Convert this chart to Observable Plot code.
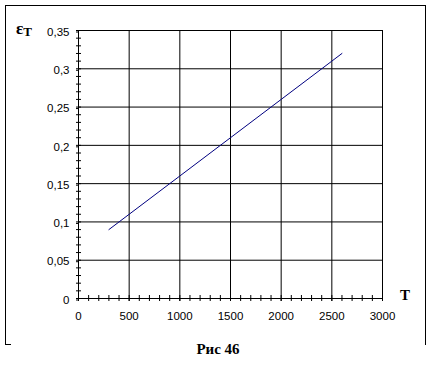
<!DOCTYPE html>
<html>
<head>
<meta charset="utf-8">
<script src="https://cdn.jsdelivr.net/npm/d3@7"></script>
<script src="https://cdn.jsdelivr.net/npm/@observablehq/plot@0.6"></script>
<style>
  html, body { margin: 0; padding: 0; background: #fff; }
  #wrap { position: relative; width: 432px; height: 375px; overflow: hidden; }
  #chart { position: absolute; left: 0; top: 0; }
  .box { position: absolute; left: 5px; top: 5px; width: 419px; height: 339px;
         border-left: 1px solid #000; border-top: 1px solid #000; border-right: 1px solid #000; }
  .stub { position: absolute; left: 5px; top: 344px; width: 6px; height: 0; border-top: 1px solid #000; }
  .lbl { position: absolute; font-family: "Liberation Serif", "Times New Roman", serif; font-weight: bold; color: #000; white-space: nowrap; }
</style>
</head>
<body>
<div id="wrap">
  <div class="box"></div>
  <div class="stub"></div>
  <div id="chart"></div>
  <div class="lbl" style="left:16px; top:19px; font-size:17px;">ε<span style="font-size:13px; position:relative; top:2px;">T</span></div>
  <div class="lbl" style="left:400px; top:287px; font-size:15px;">T</div>
  <div class="lbl" style="left:0; width:436px; text-align:center; top:341px; font-size:15px;">Рис 46</div>
</div>
<script>
// Data
const T   = [300, 500, 1000, 1500, 2000, 2500, 2600];
const eps = [0.09, 0.11, 0.16, 0.21, 0.26, 0.31, 0.32];

const xTicks = [0, 500, 1000, 1500, 2000, 2500, 3000];
const yTicks = [0, 0.05, 0.1, 0.15, 0.2, 0.25, 0.3, 0.35];
const xMinor = d3.range(0, 3001, 100);
const yMinor = d3.range(0, 36, 1).map(v => v / 100);

const rows = T.map((t, i) => ({T: t, e: eps[i]}));
const fmt = d => String(d).replace(".", ",");

const chart = Plot.plot({
  width: 432,
  height: 375,
  marginLeft: 78,
  marginRight: 50,
  marginTop: 30,
  marginBottom: 77,
  style: {fontFamily: "'Liberation Sans', Arial, sans-serif", fontSize: "11.5px", color: "#000", background: "transparent"},
  x: {domain: [0, 3000]},
  y: {domain: [0, 0.35]},
  marks: [
    Plot.gridX(xTicks, {stroke: "#000", strokeOpacity: 1}),
    Plot.gridY(yTicks, {stroke: "#000", strokeOpacity: 1}),
    Plot.ruleX(xMinor, {x: d => d, y1: () => 0, y2: () => 0, insetTop: -3, insetBottom: -3, stroke: "#000"}),
    Plot.ruleY(yMinor, {y: d => d, x1: () => 0, x2: () => 0, insetLeft: -2, insetRight: -3, stroke: "#000"}),
    Plot.axisX(xTicks, {tickSize: 3, tickPadding: 10, tickFormat: fmt, label: null, stroke: "#000", fontSize: 11.5}),
    Plot.axisY(yTicks, {tickSize: 2, tickPadding: 7, tickFormat: fmt, label: null, stroke: "#000", fontSize: 11.5, dy: 1.5}),
    Plot.frame({stroke: "#000"}),
    Plot.line(rows, {x: "T", y: "e", stroke: "#000080", strokeWidth: 1})
  ]
});
document.getElementById("chart").appendChild(chart);
</script>
</body>
</html>
